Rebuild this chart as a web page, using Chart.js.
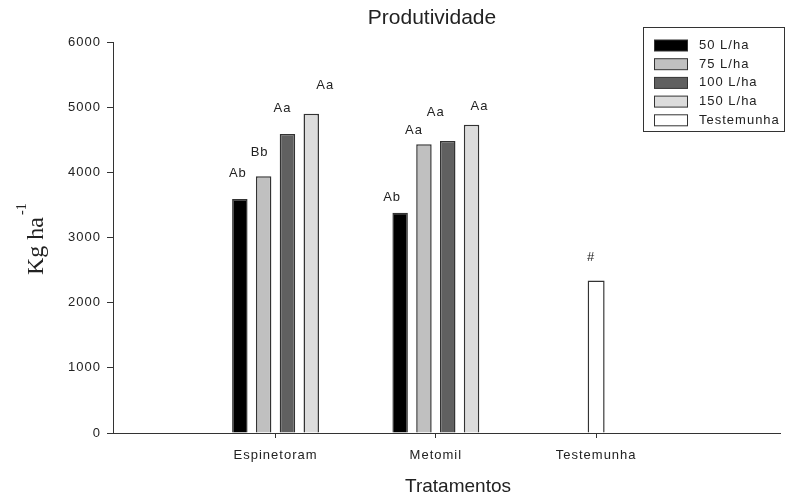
<!DOCTYPE html>
<html>
<head>
<meta charset="utf-8">
<script src="https://cdn.jsdelivr.net/npm/chart.js@4/dist/chart.umd.min.js"></script>
<style>
  html, body { margin: 0; padding: 0; background: #fff; }
  #wrap { width: 787px; height: 497px; }
</style>
</head>
<body>
<div id="wrap"><canvas id="prodChart" width="787" height="497"></canvas></div>
<script>
const categories = ['Espinetoram', 'Metomil', 'Testemunha'];
const seriesNames = ['50 L/ha', '75 L/ha', '100 L/ha', '150 L/ha', 'Testemunha'];

const dose50 = [3590, 3380, null];
const dose75 = [3940, 4430, null];
const dose100 = [4590, 4480, null];
const dose150 = [4900, 4730, null];
const control = [null, null, 2340];

const letters50 = ['Ab', 'Ab', ''];
const letters75 = ['Bb', 'Aa', ''];
const letters100 = ['Aa', 'Aa', ''];
const letters150 = ['Aa', 'Aa', ''];
const lettersControl = ['', '', '#'];

const yTicks = [0, 1000, 2000, 3000, 4000, 5000, 6000];

// hand placement of the letters, px relative to bar top centre: [dx, lift]
const nudge50 = [[-2, 26], [-8, 15], [0, 0]];
const nudge75 = [[-4, 24], [-10, 14], [0, 0]];
const nudge100 = [[-5, 25], [-12, 29], [0, 0]];
const nudge150 = [[14, 28], [8, 18], [0, 0]];
const nudgeControl = [[0, 0], [0, 0], [-5, 23]];

const TEXT = '#222';
const EDGE = '#333';
const SANS = "'Liberation Sans', Arial, sans-serif";

function toPoints(values) {
  return values.map((v, i) => ({ x: i + 1, y: v }));
}

function makeDataset(label, values, letters, nudge, fill, catPct) {
  return {
    label: label,
    data: toPoints(values),
    letters: letters,
    nudge: nudge,
    backgroundColor: fill,
    borderColor: EDGE,
    borderWidth: 1.5,
    categoryPercentage: catPct,
    barPercentage: 0.65,
    skipNull: true
  };
}

// the old plot used widely spaced letters
const spacing = {
  id: 'spacing',
  beforeDraw(chart) { chart.ctx.letterSpacing = '1px'; }
};

// letters over the bars
const barLetters = {
  id: 'barLetters',
  afterDatasetsDraw(chart) {
    const ctx = chart.ctx;
    ctx.save();
    ctx.font = '13px ' + SANS;
    ctx.fillStyle = TEXT;
    ctx.textAlign = 'center';
    ctx.textBaseline = 'middle';
    chart.data.datasets.forEach((ds, di) => {
      const meta = chart.getDatasetMeta(di);
      meta.data.forEach((bar, i) => {
        const txt = ds.letters[i];
        if (!txt || ds.data[i].y == null) return;
        ctx.fillText(txt, bar.x + ds.nudge[i][0], bar.y - ds.nudge[i][1]);
      });
    });
    ctx.restore();
  }
};

// titles and boxed legend
const decorations = {
  id: 'decorations',
  afterDraw(chart) {
    const ctx = chart.ctx;
    ctx.save();
    ctx.letterSpacing = '0px';
    ctx.fillStyle = TEXT;
    ctx.textAlign = 'center';
    ctx.textBaseline = 'middle';
    ctx.font = '21px ' + SANS;
    ctx.fillText('Produtividade', 432, 18);
    ctx.font = '19px ' + SANS;
    ctx.fillText('Tratamentos', 458, 487);

    // y title with superscript
    ctx.save();
    ctx.translate(43, 275);
    ctx.rotate(-Math.PI / 2);
    ctx.textAlign = 'left';
    ctx.textBaseline = 'alphabetic';
    ctx.font = "24px 'Liberation Serif', 'Times New Roman', serif";
    ctx.fillText('Kg ha', 0, 0);
    const w = ctx.measureText('Kg ha').width;
    ctx.font = "14px 'Liberation Serif', 'Times New Roman', serif";
    ctx.fillText('-1', w + 2, -17);
    ctx.restore();

    // legend
    ctx.strokeStyle = EDGE;
    ctx.lineWidth = 1;
    ctx.fillStyle = '#fff';
    ctx.fillRect(643.5, 27.5, 141, 104);
    ctx.strokeRect(643.5, 27.5, 141, 104);
    ctx.font = '13px ' + SANS;
    ctx.letterSpacing = '1px';
    ctx.textAlign = 'left';
    chart.data.datasets.forEach((ds, i) => {
      const cy = 45.5 + i * 18.7;
      ctx.fillStyle = ds.backgroundColor;
      ctx.fillRect(654.5, cy - 5.5, 33, 11);
      ctx.strokeStyle = EDGE;
      ctx.strokeRect(654.5, cy - 5.5, 33, 11);
      ctx.fillStyle = TEXT;
      ctx.fillText(ds.label, 699, cy);
    });
    ctx.restore();
  }
};

const ctx = document.getElementById('prodChart');
new Chart(ctx, {
  type: 'bar',
  data: {
    datasets: [
      makeDataset(seriesNames[0], dose50, letters50, nudge50, '#000000', 0.594),
      makeDataset(seriesNames[1], dose75, letters75, nudge75, '#c0c0c0', 0.594),
      makeDataset(seriesNames[2], dose100, letters100, nudge100, '#606060', 0.594),
      makeDataset(seriesNames[3], dose150, letters150, nudge150, '#dcdcdc', 0.594),
      makeDataset(seriesNames[4], control, lettersControl, nudgeControl, '#ffffff', 0.163)
    ]
  },
  options: {
    responsive: false,
    animation: false,
    layout: { padding: { top: 42, right: 7, bottom: 0, left: 0 } },
    plugins: {
      legend: { display: false },
      title: { display: false },
      tooltip: { enabled: false }
    },
    scales: {
      x: {
        type: 'linear',
        min: -0.014,
        max: 4.147,
        offset: false,
        afterBuildTicks: (axis) => { axis.ticks = categories.map((c, i) => ({ value: i + 1 })); },
        afterFit: (axis) => { axis.height = 64; },
        border: { display: true, color: EDGE, width: 1 },
        grid: { offset: false, drawOnChartArea: false, drawTicks: true, tickLength: 5, color: EDGE },
        ticks: {
          padding: 10,
          color: TEXT,
          font: { family: SANS, size: 13 },
          maxRotation: 0,
          autoSkip: false,
          callback: (v) => categories[v - 1] || ''
        }
      },
      y: {
        min: yTicks[0],
        max: yTicks[yTicks.length - 1],
        afterBuildTicks: (axis) => { axis.ticks = yTicks.map(v => ({ value: v })); },
        afterFit: (axis) => { axis.width = 113; },
        border: { display: true, color: EDGE, width: 1 },
        grid: { drawOnChartArea: false, drawTicks: true, tickLength: 6, color: EDGE },
        ticks: {
          padding: 6,
          color: TEXT,
          font: { family: SANS, size: 13 },
          callback: (v) => String(v)
        }
      }
    }
  },
  plugins: [spacing, barLetters, decorations]
});
</script>
</body>
</html>
